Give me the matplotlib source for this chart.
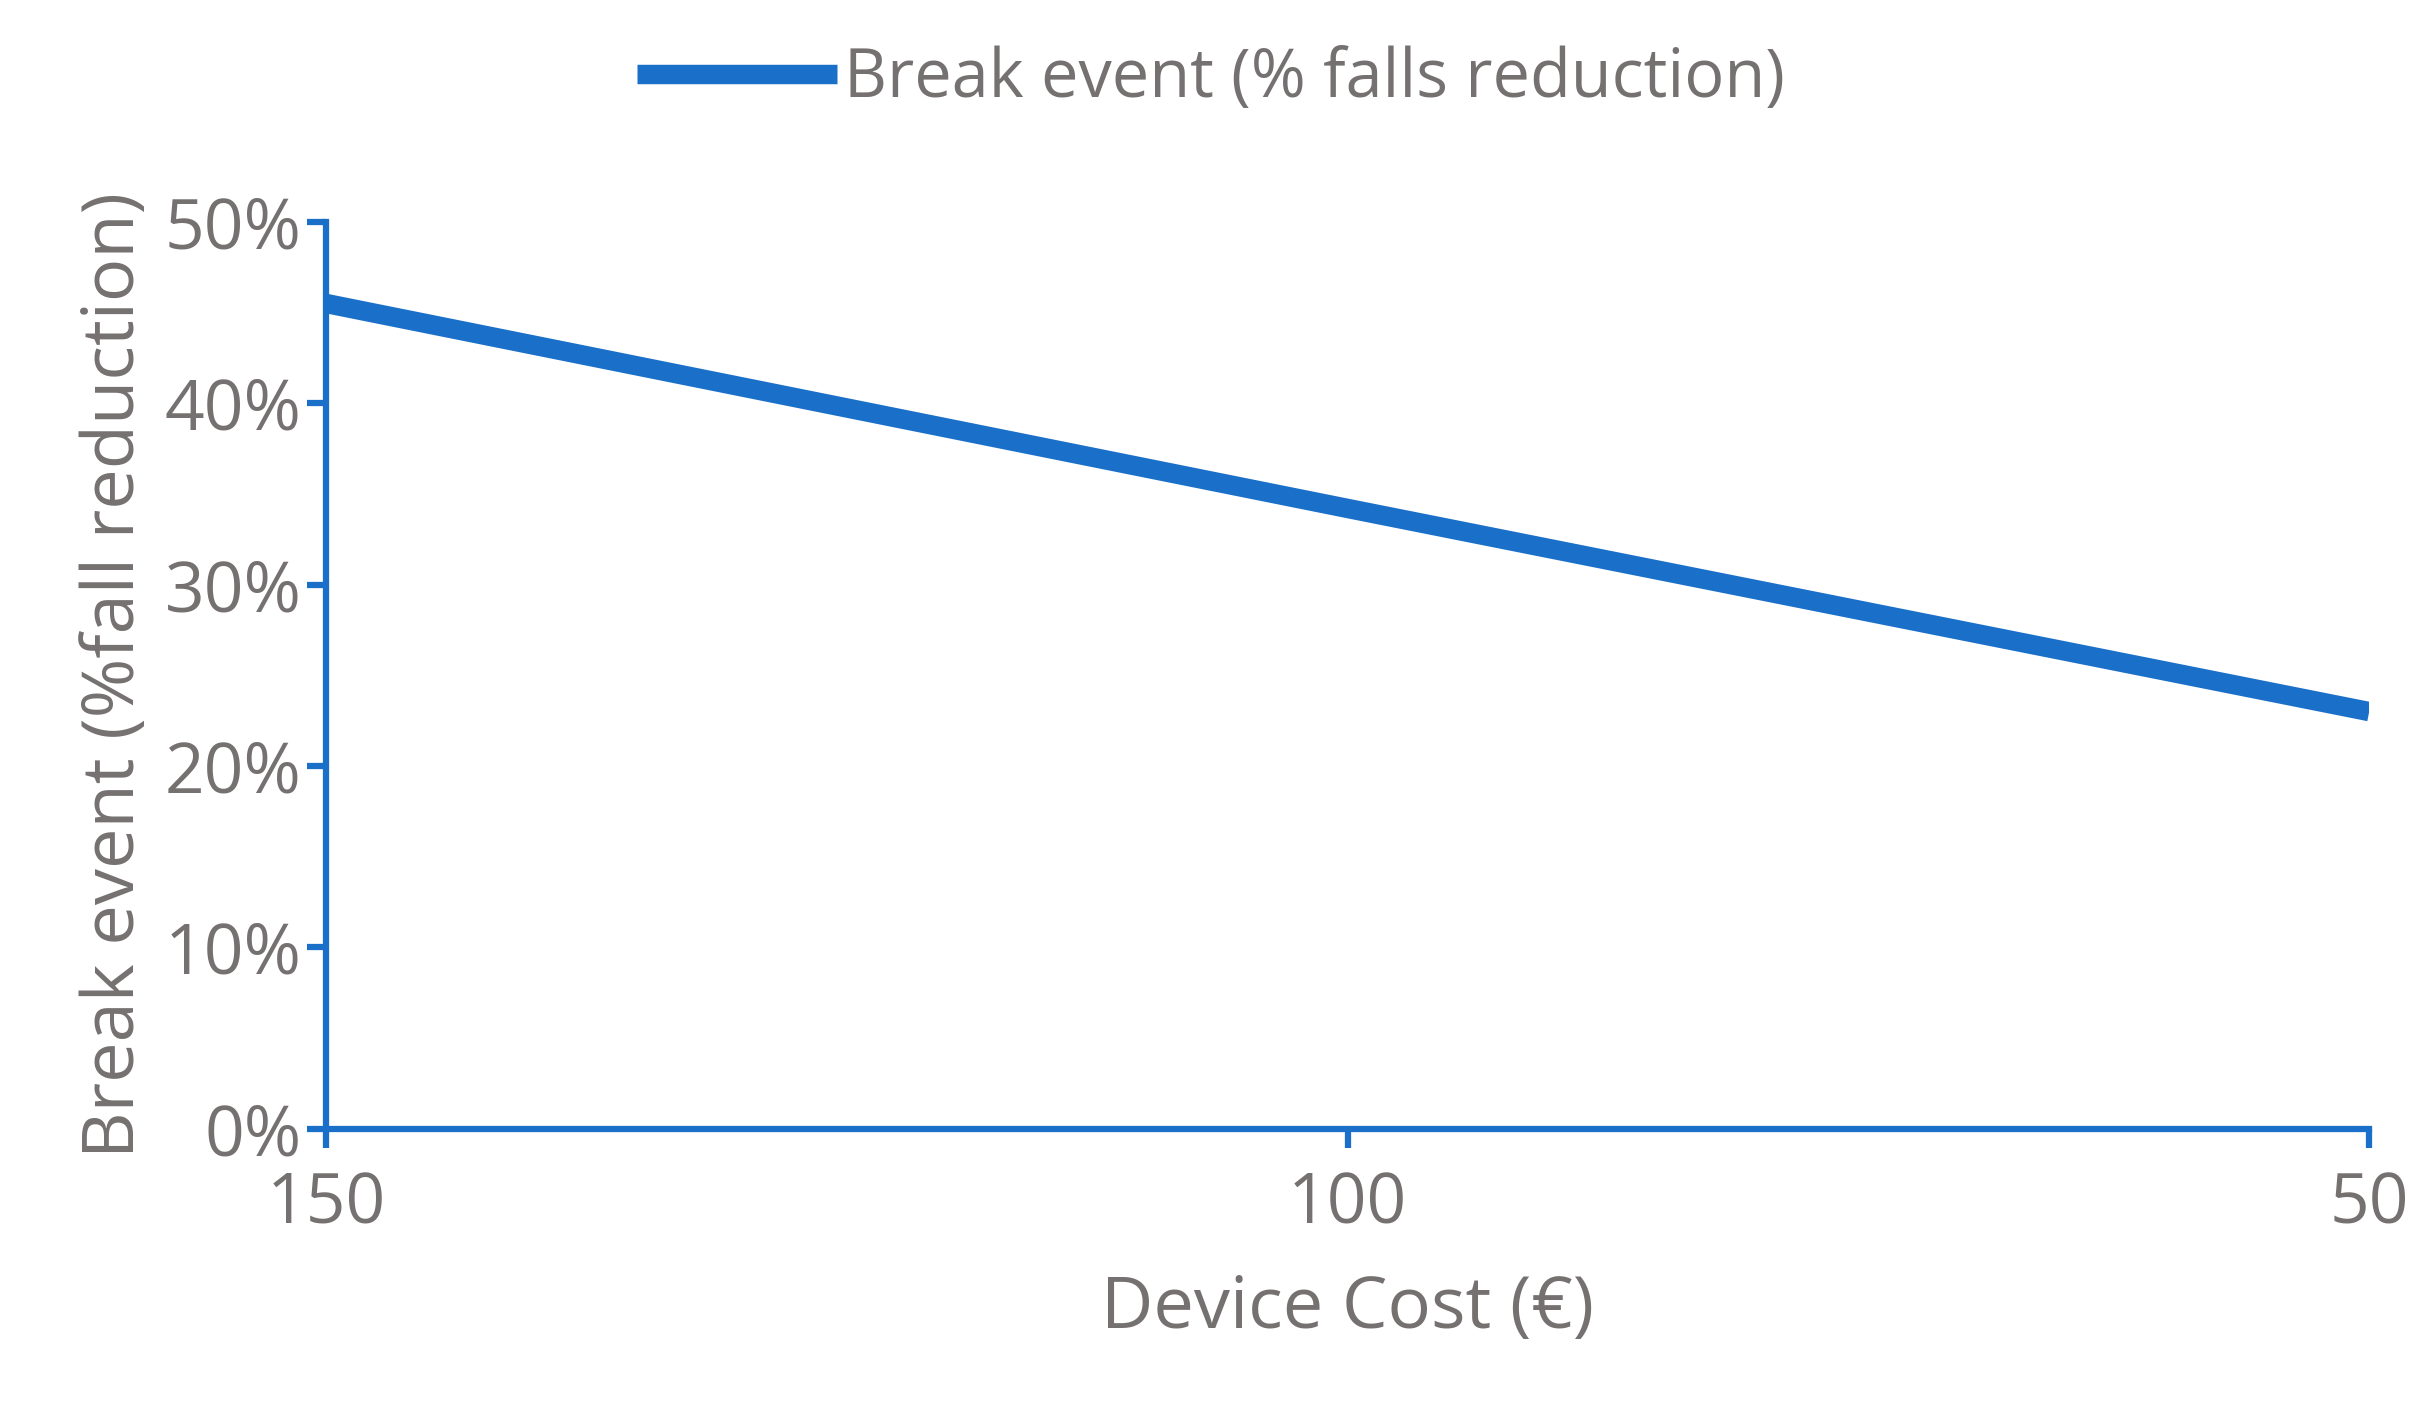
import matplotlib.pyplot as plt
from matplotlib.ticker import PercentFormatter

cost = [150, 100, 50]
break_event = [45.5, 34.2, 23.0]
yticks = [0, 10, 20, 30, 40, 50]

blue = '#1A6FC8'
grey = '#767171'
plt.rcParams['font.family'] = ['Open Sans', 'DejaVu Sans']

fig = plt.figure(figsize=(24.22, 14.04), dpi=100)
ax = fig.add_axes([0.1346, 0.196, 0.8436, 0.646])

ax.plot(cost, break_event, color=blue, lw=14, solid_capstyle='butt',
        label='Break event (% falls reduction)')

ax.set_xlim(150, 50)
ax.set_ylim(0, 50)
ax.set_xticks(cost)
ax.set_yticks(yticks)
ax.yaxis.set_major_formatter(PercentFormatter(decimals=0))

for s in ['top', 'right']:
    ax.spines[s].set_visible(False)
for s in ['left', 'bottom']:
    ax.spines[s].set_color(blue)
    ax.spines[s].set_linewidth(4.5)

ax.tick_params(colors=blue, width=4.5, length=14, labelcolor=grey, labelsize=50)
ax.tick_params(axis='x', pad=16)
ax.set_xlabel('Device Cost (€)', color=grey, fontsize=52, labelpad=24)
ax.set_ylabel('Break event (%fall reduction)', color=grey, fontsize=52, labelpad=10)

fig.legend(loc='upper center', bbox_to_anchor=(0.5, 1.01), frameon=False,
           fontsize=48, labelcolor=grey, handlelength=3.0, handletextpad=0.1)

fig.savefig('out.png')
